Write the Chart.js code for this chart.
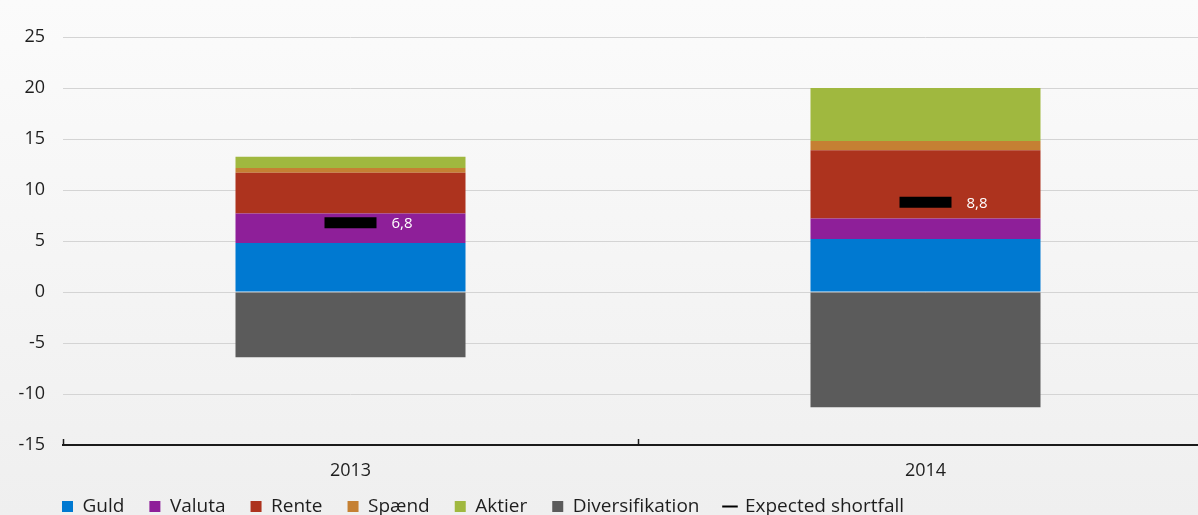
<!DOCTYPE html>
<html>
<head>
<meta charset="utf-8">
<script src="https://cdn.jsdelivr.net/npm/chart.js@4"></script>
<style>
    html, body { margin: 0; padding: 0; overflow: hidden; }
    body { width: 1198px; height: 515px; background: linear-gradient(#fbfbfb, #efefef); }
    canvas { display: block; }
</style>
</head>
<body>
<canvas id="chart" width="1215" height="536"></canvas>
<script>
const years = ['2013', '2014'];
const guld = [4.8, 5.2];
const valuta = [2.9, 2.0];
const rente = [4.0, 6.7];
const spaend = [0.45, 0.9];
const aktier = [1.1, 5.2];
const diversifikation = [-6.4, -11.3];
const expectedShortfall = [6.8, 8.8];
const yTicks = [-15, -10, -5, 0, 5, 10, 15, 20, 25];

const fontFamily = "'Open Sans', 'Noto Sans', sans-serif";
const textColor = '#1e1e1e';

function bar(label, data, color) {
    return {
        type: 'bar',
        label: label,
        data: data,
        backgroundColor: color,
        stack: 'risk',
        categoryPercentage: 1,
        barPercentage: 0.4
    };
}

// short upward ticks on the x axis at category boundaries
const boundaryTicks = {
    id: 'boundaryTicks',
    afterDraw(chart) {
        const x = chart.scales.x;
        const ctx = chart.ctx;
        const bottom = chart.chartArea.bottom;
        ctx.save();
        ctx.strokeStyle = '#1a1a1a';
        ctx.lineWidth = 1.5;
        for (let i = 0; i <= years.length; i++) {
            const px = Math.round(x.getPixelForValue(i - 0.5)) + 0.5;
            ctx.beginPath();
            ctx.moveTo(px, bottom - 6);
            ctx.lineTo(px, bottom);
            ctx.stroke();
        }
        ctx.restore();
    }
};

// value labels next to the expected shortfall markers
const esLabels = {
    id: 'esLabels',
    afterDatasetsDraw(chart) {
        const idx = chart.data.datasets.findIndex(d => d.label === 'Expected shortfall');
        const meta = chart.getDatasetMeta(idx);
        const ctx = chart.ctx;
        ctx.save();
        ctx.fillStyle = '#ffffff';
        ctx.font = "15px " + fontFamily;
        ctx.textAlign = 'left';
        ctx.textBaseline = 'middle';
        meta.data.forEach((pt, i) => {
            const txt = expectedShortfall[i].toFixed(1).replace('.', ',');
            ctx.fillText(txt, pt.x + 41, pt.y + 1);
        });
        ctx.restore();
    }
};

// legend sits flush with the plot's left edge and a bit higher than the layout puts it
const legendOffset = {
    id: 'legendOffset',
    afterLayout(chart) {
        const lg = chart.legend;
        lg.left += 37;
        lg.top -= 10;
        lg.bottom -= 10;
    }
};

const ctx = document.getElementById('chart').getContext('2d');
new Chart(ctx, {
    data: {
        labels: years,
        datasets: [
            bar('Guld', guld, '#0079d1'),
            bar('Valuta', valuta, '#8e1f99'),
            bar('Rente', rente, '#ad331e'),
            bar('Spænd', spaend, '#c58033'),
            bar('Aktier', aktier, '#a0b83f'),
            bar('Diversifikation', diversifikation, '#5b5b5b'),
            {
                type: 'line',
                label: 'Expected shortfall',
                data: expectedShortfall,
                stack: 'es',
                order: -1,
                showLine: false,
                pointStyle: 'line',
                pointRadius: 26,
                pointHoverRadius: 26,
                pointBorderWidth: 11,
                pointBorderColor: '#000000',
                pointBackgroundColor: '#000000',
                borderColor: '#000000',
                backgroundColor: '#000000'
            }
        ]
    },
    options: {
        responsive: false,
        animation: false,
        layout: {
            autoPadding: false,
            padding: { left: 0, top: 37, right: 2, bottom: 0 }
        },
        scales: {
            x: {
                stacked: true,
                afterFit: s => { s.height = 37; },
                grid: {
                    display: false,
                    drawTicks: false
                },
                border: {
                    display: true,
                    color: '#1a1a1a',
                    width: 2
                },
                ticks: {
                    padding: 15,
                    color: textColor,
                    font: { family: fontFamily, size: 18 }
                }
            },
            y: {
                stacked: true,
                min: -15,
                max: 25,
                afterFit: s => { s.width = 63; },
                afterBuildTicks: s => { s.ticks = yTicks.map(v => ({ value: v })); },
                grid: {
                    color: '#d4d4d4',
                    lineWidth: 1,
                    drawTicks: false
                },
                border: { display: false },
                ticks: {
                    padding: 18,
                    color: textColor,
                    font: { family: fontFamily, size: 18 }
                }
            }
        },
        plugins: {
            legend: {
                position: 'bottom',
                align: 'start',
                labels: {
                    usePointStyle: true,
                    boxWidth: 11,
                    boxHeight: 11,
                    padding: 25,
                    color: textColor,
                    font: { family: fontFamily, size: 19 },
                    sort: (a, b) => a.datasetIndex - b.datasetIndex,
                    generateLabels(chart) {
                        const items = Chart.defaults.plugins.legend.labels.generateLabels(chart);
                        return items.map(it => {
                            const ds = chart.data.datasets[it.datasetIndex];
                            if (ds.type === 'line') {
                                it.pointStyle = 'line';
                                it.lineWidth = 2;
                                it.strokeStyle = '#000000';
                                it.fillStyle = '#000000';
                            } else {
                                it.pointStyle = 'rect';
                                it.lineWidth = 0;
                                it.strokeStyle = ds.backgroundColor;
                            }
                            return it;
                        });
                    }
                }
            },
            tooltip: { enabled: false }
        }
    },
    plugins: [boundaryTicks, esLabels, legendOffset]
});
</script>
</body>
</html>
